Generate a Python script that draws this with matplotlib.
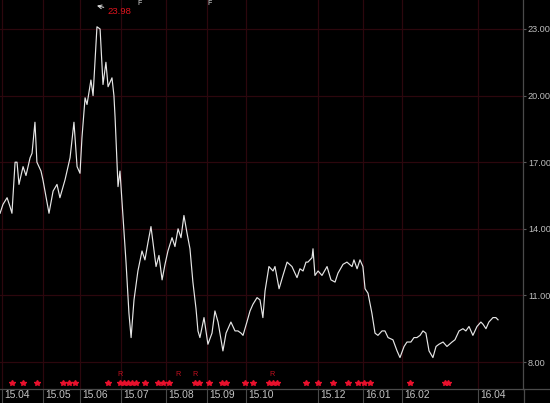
import matplotlib
matplotlib.use("Agg")
import matplotlib.pyplot as plt
import matplotlib.transforms as mtransforms
from matplotlib.lines import Line2D

plt.rcParams['font.family'] = ['Liberation Sans', 'DejaVu Sans']

# trading-day index (0 = first trading day of 2015-04) and closing price
day_idx = [-1.0, 0.5, 2.6, 4.1, 5.1, 6.7, 7.7, 8.7, 10.8, 12.3, 14.4, 15.4, 16.9, 17.9,
           20.0, 21.0, 23.1, 24.1, 26.2, 28.2, 29.7, 32.3, 34.9, 36.9, 38.5, 40.0, 41.0,
           42.6, 43.6, 45.6, 46.7, 48.7, 50.3, 51.8, 53.3, 54.4, 56.4, 57.4, 58.0, 59.5,
           60.5, 62.1, 63.6, 65.1, 66.2, 67.7, 69.7, 71.8, 73.3, 74.9, 76.4, 77.4, 79.0,
           80.5, 82.1, 83.6, 85.1, 87.2, 88.7, 90.3, 91.8, 93.3, 94.9, 96.4, 97.9, 99.5,
           100.5, 101.5, 103.6, 105.6, 107.7, 109.2, 110.8, 113.3, 114.9, 117.4, 119.5,
           121.0, 122.6, 123.6, 125.6, 127.2, 128.7, 130.8, 132.3, 133.8, 134.9, 136.9,
           139.0, 140.0, 142.1, 144.1, 146.2, 148.7, 151.3, 152.8, 154.4, 155.9, 156.9,
           159.0, 159.5, 160.5, 162.1, 164.1, 166.7, 168.7, 170.8, 172.3, 174.9, 176.9,
           179.5, 180.5, 182.1, 183.6, 185.1, 186.2, 187.7, 189.7, 191.3, 192.8, 194.9,
           196.4, 198.0, 200.5, 202.6, 204.1, 206.2, 207.7, 209.7, 211.3, 212.8, 214.4,
           215.9, 217.4, 219.0, 221.0, 222.6, 224.1, 226.2, 228.2, 230.8, 232.3, 234.4,
           236.4, 237.9, 239.5, 241.5, 243.6, 245.6, 246.7, 248.2, 249.7, 251.8, 253.3,
           254.4]
price = [14.7, 15.1, 15.4, 15.0, 14.7, 17.0, 17.0, 16.0, 16.8, 16.4, 17.2, 17.4, 18.8, 17.0,
         16.6, 16.2, 15.2, 14.7, 15.7, 16.0, 15.4, 16.2, 17.2, 18.8, 16.8, 16.5, 18.1,
         19.9, 19.6, 20.7, 20.0, 23.1, 23.0, 20.5, 21.5, 20.4, 20.8, 20.0, 19.0, 15.9,
         16.6, 14.5, 12.5, 10.2, 9.1, 10.8, 12.1, 13.0, 12.6, 13.4, 14.1, 13.4, 12.3,
         12.8, 11.7, 12.4, 13.0, 13.6, 13.2, 14.0, 13.6, 14.6, 13.8, 13.1, 11.6, 10.4,
         9.4, 9.1, 10.0, 8.8, 9.3, 10.3, 9.8, 8.5, 9.3, 9.8, 9.4,
         9.4, 9.3, 9.2, 9.8, 10.3, 10.6, 10.9, 10.8, 10.0, 11.2, 12.3,
         12.1, 12.3, 11.3, 11.9, 12.5, 12.3, 11.8, 12.2, 12.1, 12.5, 12.5,
         12.7, 13.1, 11.9, 12.1, 11.9, 12.3, 11.7, 11.6, 12.0, 12.4, 12.5,
         12.3, 12.6, 12.2, 12.6, 12.3, 11.3, 11.1, 10.2, 9.3, 9.2, 9.4,
         9.4, 9.1, 9.0, 8.5, 8.2, 8.7, 8.9, 8.9, 9.1, 9.1, 9.2,
         9.4, 9.3, 8.5, 8.2, 8.7, 8.8, 8.9, 8.7, 8.9, 9.0, 9.4,
         9.5, 9.4, 9.6, 9.2, 9.6, 9.8, 9.7, 9.5, 9.8, 10.0, 10.0,
         9.9]

month_idx = [0, 21, 40, 61, 84, 105, 125, 162, 185, 205, 244]
month_labels = ['15.04', '15.05', '15.06', '15.07', '15.08', '15.09', '15.10',
                '15.12', '16.01', '16.02', '16.04']

y_ticks = [8, 11, 14, 17, 20, 23]

event_dots = [5.1, 10.8, 17.9, 31.3, 34.4, 37.4, 54.4, 60.5, 62.6, 64.6, 66.7, 68.7,
              73.3, 80.0, 82.6, 85.6, 99.0, 101.0, 106.2, 112.8, 114.9, 124.6, 128.7,
              136.9, 139.0, 141.0, 155.9, 162.1, 169.7, 177.4, 182.6, 185.6, 188.7,
              209.2, 227.2, 228.7]
event_r = [60.5, 90.3, 99.0, 138.5]

peak_idx = 48.7
peak_label = '23.98'

fig = plt.figure(figsize=(5.5, 4.03), dpi=100, facecolor='black')
ax = fig.add_axes([0, 14 / 403, 523 / 550, 389 / 403], facecolor='black')

ax.plot(day_idx, price, color='#e6e6e6', lw=0.85)

ax.set_xlim(-1.03, 267.2)
ax.set_ylim(6.784, 24.306)

grid_c = '#2c070d'
ax.set_xticks(month_idx, month_labels)
ax.set_yticks(y_ticks, [f'{v:.2f}' for v in y_ticks])
ax.grid(True, color=grid_c, lw=0.9)
ax.set_axisbelow(True)

for s in ['top', 'left']:
    ax.spines[s].set_visible(False)
for s in ['right', 'bottom']:
    ax.spines[s].set_color('#4a4a4a')
    ax.spines[s].set_linewidth(0.9)

# extend right axis line to bottom of figure and bottom line to right edge
fig.add_artist(Line2D([523.5 / 550, 523.5 / 550], [0, 14 / 403], color='#4a4a4a', lw=0.9))
fig.add_artist(Line2D([523 / 550, 1], [14 / 403, 14 / 403], color='#4a4a4a', lw=0.9))

ax.yaxis.tick_right()
ax.tick_params(axis='y', length=2.5, color='#5a5a5a', width=0.8, pad=1,
               labelsize=6.6, labelcolor='#bdbdbd')
ax.tick_params(axis='x', length=10, color='#4a4a4a', width=0.8, pad=-9.0,
               labelsize=7.4, labelcolor='#c4c4c4')
offset = mtransforms.ScaledTranslation(1.5 / 72, 0, fig.dpi_scale_trans)
for lab in ax.get_xticklabels():
    lab.set_ha('left')
    lab.set_transform(lab.get_transform() + offset)

trans = mtransforms.blended_transform_factory(ax.transData, ax.transAxes)
ax.plot(event_dots, [0.016] * len(event_dots), ls='none', marker='*', ms=4.2,
        color='#e8102c', mec='#e8102c', transform=trans, clip_on=False)
for xv in event_r:
    ax.text(xv, 0.037, 'R', color='#c0101f', fontsize=5.2, ha='center', va='center',
            transform=trans)

ax.annotate(peak_label, xy=(peak_idx, 24.05), xytext=(peak_idx + 5.6, 23.8),
            color='#e0141e', fontsize=6.8, va='center', ha='left',
            arrowprops=dict(arrowstyle='->', color='#e0e0e0', lw=0.7,
                            shrinkA=1, shrinkB=0))

for xv in [70.8, 106.7]:
    ax.text(xv, 1.0, 'F', color='#e0e0e0', fontsize=5, ha='center', va='top',
            transform=trans)

fig.savefig('out.png', dpi=100, facecolor='black')
